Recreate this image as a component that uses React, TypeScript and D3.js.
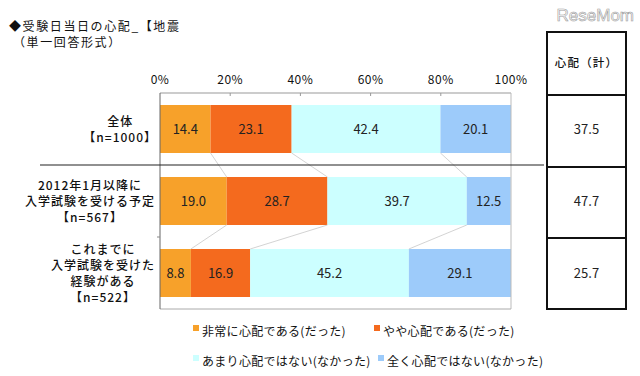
import React from "react";
import * as d3 from "d3";

const categories = ["全体", "2012年1月以降に受ける予定", "これまでに受けた経験がある"];
const categoryLines = [
  ["全体", "【n=1000】"],
  ["2012年1月以降に", "入学試験を受ける予定", "【n=567】"],
  ["これまでに", "入学試験を受けた", "経験がある", "【n=522】"],
];
const seriesNames = [
  "非常に心配である(だった)",
  "やや心配である(だった)",
  "あまり心配ではない(なかった)",
  "全く心配ではない(なかった)",
];
const veryWorried = [14.4, 19.0, 8.8];
const somewhatWorried = [23.1, 28.7, 16.9];
const notVery = [42.4, 39.7, 45.2];
const notAtAll = [20.1, 12.5, 29.1];
const worriedTotal = ["37.5", "47.7", "25.7"];
const xTicks = [0, 20, 40, 60, 80, 100];
const colors = ["#F7A12A", "#F46A1E", "#CCFFFF", "#9DCBFA"];

const FONT = "'Noto Sans CJK JP', 'Noto Sans', sans-serif";

function textWidth(s: string, fs: number, ls: number) {
  let w = 0;
  for (const ch of s) {
    if (/[\x20-\x7e]/.test(ch)) w += (/[0-9]/.test(ch) ? fs * 0.56 : fs * 0.45) + ls;
    else w += fs + ls;
  }
  return w;
}

export default function App() {
  const W = 640, H = 376;
  const x = d3.scaleLinear().domain([0, 100]).range([160, 511]);
  const y = d3.scaleBand<number>().domain([0, 1, 2]).range([93, 309]).paddingInner(1 / 3).paddingOuter(1 / 6);
  const series = [veryWorried, somewhatWorried, notVery, notAtAll];
  const stacked = categories.map((_, i) => {
    let acc = 0;
    return series.map((s) => {
      const x0 = acc;
      acc += s[i];
      return { x0, x1: acc, v: s[i] };
    });
  });
  const step = y.step();
  const top = y.range()[0];
  const bottom = y.range()[1];
  const boundaries = [0, 1, 2, 3].map((k) => top + k * step);
  const tableL = 547, tableR = 626, tableTop = 32;
  const fs = 12;
  const catLS = 1.0;

  return (
    <svg width={W} height={H} style={{ position: "absolute", left: 0, top: 0, background: "#fff" }} fontFamily={FONT}>
      <rect width={W} height={H} fill="#fff" />
      {/* watermark */}
      <text x={634} y={21} textAnchor="end" fontSize={17} fill="#fff" stroke="#9a9a9a" strokeWidth={0.6} fontFamily="'Liberation Sans', sans-serif">ReseMom</text>
      {/* title */}
      <text x={9} y={31} fontSize={12} letterSpacing={1.6} fill="#111">◆受験日当日の心配_【地震</text>
      <text x={13} y={47} fontSize={12} letterSpacing={1.6} fill="#111">（単一回答形式）</text>
      {/* x tick labels */}
      {xTicks.map((t) => (
        <text key={t} x={x(t)} y={84} textAnchor="middle" fontSize={12} letterSpacing={0.5} fill="#111">{t}%</text>
      ))}
      {/* bars */}
      {stacked.map((segs, i) =>
        segs.map((s, j) => (
          <g key={`${i}-${j}`}>
            <rect x={x(s.x0)} y={y(i)!} width={x(s.x1) - x(s.x0)} height={y.bandwidth()} fill={colors[j]} />
            <text x={(x(s.x0) + x(s.x1)) / 2} y={y(i)! + y.bandwidth() / 2 + 4.5} textAnchor="middle" fontSize={13} fill="#222">
              {s.v.toFixed(1)}
            </text>
          </g>
        ))
      )}
      {/* connector lines */}
      {[0, 1].map((i) =>
        [0, 1, 2].map((j) => (
          <line key={`c${i}-${j}`} x1={x(stacked[i][j].x1)} y1={y(i)! + y.bandwidth()} x2={x(stacked[i + 1][j].x1)} y2={y(i + 1)!} stroke="#c8c8c8" strokeWidth={0.8} />
        ))
      )}
      {/* plot frame */}
      <line x1={x(0)} x2={x(100)} y1={top} y2={top} stroke="#999" strokeWidth={1} />
      <line x1={x(100)} x2={x(100)} y1={top} y2={bottom} stroke="#bbb" strokeWidth={1} />
      <line x1={x(0)} x2={x(100)} y1={bottom} y2={bottom} stroke="#aaa" strokeWidth={1} />
      <line x1={x(0)} x2={x(0)} y1={top} y2={bottom} stroke="#666" strokeWidth={1} />
      {xTicks.slice(1, -1).map((t) => (
        <line key={`t${t}`} x1={x(t)} x2={x(t)} y1={top} y2={top + 3} stroke="#999" />
      ))}
      <line x1={x(0) - 3} x2={x(0)} y1={boundaries[2]} y2={boundaries[2]} stroke="#888" />
      {/* separator */}
      <line x1={40} x2={544} y1={boundaries[1]} y2={boundaries[1]} stroke="#222" strokeWidth={1.2} />
      {/* category labels */}
      {categoryLines.map((lines, i) => {
        const maxW = Math.max(...lines.map((l) => textWidth(l, fs, catLS)));
        const cx = 155 - maxW / 2;
        const lh = 16;
        const cy = y(i)! + y.bandwidth() / 2;
        const start = cy - ((lines.length - 1) * lh) / 2;
        return lines.map((l, k) => (
          <text key={`l${i}-${k}`} x={cx} y={start + k * lh + 4.5} textAnchor="middle" fontSize={fs} fontWeight={500} letterSpacing={catLS} fill="#111">{l}</text>
        ));
      })}
      {/* right table */}
      <g stroke="#111" strokeWidth={2} fill="none">
        <rect x={tableL} y={tableTop} width={tableR - tableL} height={bottom - tableTop} />
        {[boundaries[0] + 2, boundaries[1] + 2, boundaries[2] + 1].map((yy, k) => (
          <line key={`h${k}`} x1={tableL} x2={tableR} y1={yy} y2={yy} />
        ))}
      </g>
      <text x={(tableL + tableR) / 2} y={(tableTop + boundaries[0]) / 2 + 4} textAnchor="middle" fontSize={11.5} fontWeight={500} letterSpacing={1.2} fill="#111">心配（計）</text>
      {worriedTotal.map((v, i) => (
        <text key={`w${i}`} x={(tableL + tableR) / 2} y={y(i)! + y.bandwidth() / 2 + 5} textAnchor="middle" fontSize={13} fill="#222">{v}</text>
      ))}
      {/* legend */}
      {seriesNames.map((n, k) => {
        const col = k % 2;
        const row = Math.floor(k / 2);
        const lx = col === 0 ? 193 : row === 0 ? 374 : 378;
        const ly = row === 0 ? 332 : 362;
        return (
          <g key={`lg${k}`}>
            <rect x={lx} y={ly - 7} width={6} height={6} fill={colors[k]} />
            <text x={lx + 9} y={ly + 4} fontSize={12} letterSpacing={0.3} fill="#111">{n}</text>
          </g>
        );
      })}
    </svg>
  );
}
